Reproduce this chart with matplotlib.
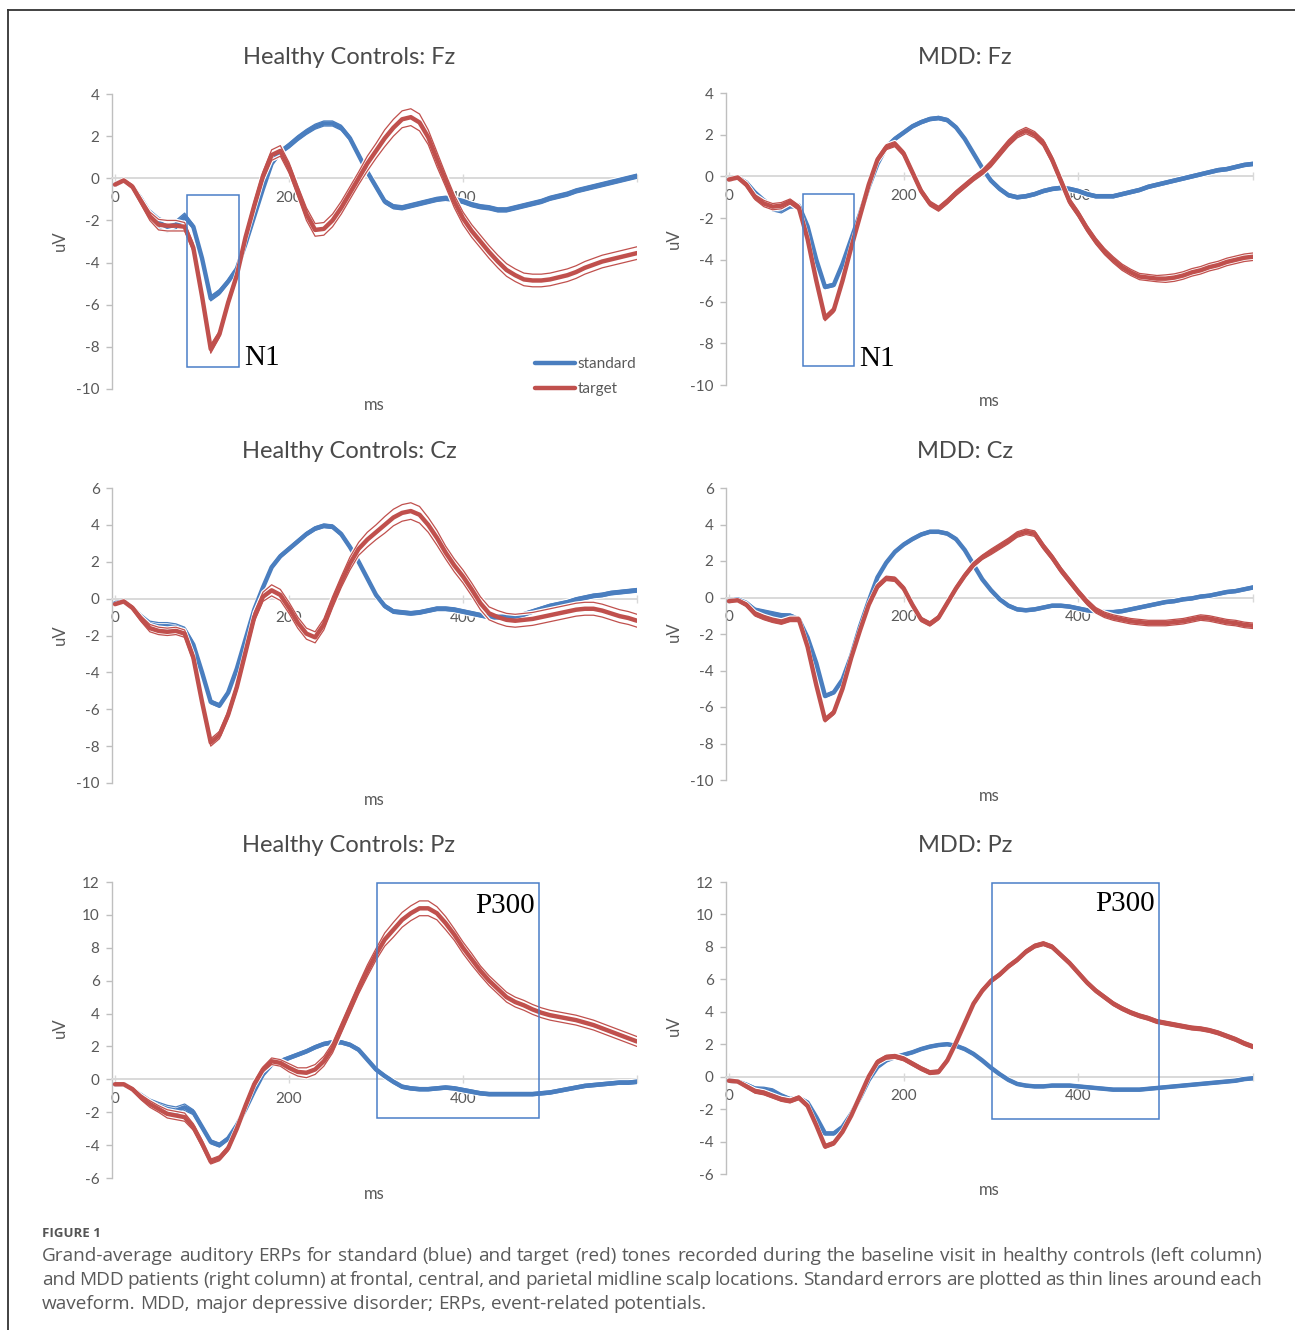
import matplotlib
matplotlib.use("Agg")
import matplotlib.pyplot as plt
import matplotlib.patheffects as pe
from matplotlib.lines import Line2D
from matplotlib.patches import Rectangle
import numpy as np

# ---------------- data ----------------
time_ms = [0, 10, 20, 30, 40, 50, 60, 70, 80, 90,
           100, 110, 120, 130, 140, 150, 160, 170, 180, 190,
           200, 210, 220, 230, 240, 250, 260, 270, 280, 290,
           300, 310, 320, 330, 340, 350, 360, 370, 380, 390,
           400, 410, 420, 430, 440, 450, 460, 470, 480, 490,
           500, 510, 520, 530, 540, 550, 560, 570, 580, 590,
           600]

hc_fz_std = [-0.3, -0.1, -0.4, -1.0, -1.7, -2.1, -2.3, -2.2, -1.8, -2.3,
             -3.8, -5.7, -5.4, -4.9, -4.3, -3.1, -1.8, -0.5, 0.7, 1.25,
             1.55, 1.9, 2.2, 2.45, 2.6, 2.6, 2.4, 1.9, 1.1, 0.3,
             -0.4, -1.1, -1.35, -1.4, -1.3, -1.2, -1.1, -1.0, -0.95, -1.0,
             -1.1, -1.25, -1.35, -1.4, -1.5, -1.5, -1.4, -1.3, -1.2, -1.1,
             -0.95, -0.85, -0.75, -0.6, -0.5, -0.4, -0.3, -0.2, -0.1, 0.0,
             0.1]
hc_fz_tgt = [-0.3, -0.1, -0.4, -1.1, -1.8, -2.2, -2.25, -2.25, -2.3, -3.3,
             -5.6, -8.1, -7.4, -5.9, -4.6, -2.8, -1.3, 0.1, 1.1, 1.3,
             0.5, -0.6, -1.7, -2.45, -2.4, -2.0, -1.4, -0.7, 0.0, 0.7,
             1.3, 1.9, 2.4, 2.8, 2.9, 2.65, 1.95, 0.9, -0.1, -1.1,
             -1.9, -2.5, -3.0, -3.5, -3.95, -4.35, -4.6, -4.8, -4.85, -4.85,
             -4.8, -4.7, -4.6, -4.45, -4.25, -4.1, -3.95, -3.85, -3.75, -3.65,
             -3.55]
mdd_fz_std = [-0.15, -0.05, -0.3, -0.8, -1.2, -1.5, -1.6, -1.4, -1.4, -2.4,
              -4.0, -5.3, -5.2, -4.2, -3.0, -1.8, -0.5, 0.6, 1.4, 1.8,
              2.1, 2.4, 2.6, 2.75, 2.8, 2.7, 2.35, 1.8, 1.1, 0.4,
              -0.2, -0.6, -0.9, -1.0, -0.95, -0.85, -0.7, -0.6, -0.55, -0.6,
              -0.7, -0.85, -0.95, -0.95, -0.95, -0.85, -0.75, -0.65, -0.5, -0.4,
              -0.3, -0.2, -0.1, 0.0, 0.1, 0.2, 0.3, 0.35, 0.45, 0.55,
              0.6]
mdd_fz_tgt = [-0.15, -0.05, -0.4, -1.0, -1.3, -1.45, -1.4, -1.2, -1.5, -3.0,
              -5.0, -6.8, -6.4, -5.0, -3.4, -1.9, -0.4, 0.8, 1.4, 1.55,
              1.1, 0.2, -0.7, -1.3, -1.55, -1.2, -0.8, -0.45, -0.1, 0.2,
              0.6, 1.1, 1.6, 2.0, 2.2, 2.0, 1.6, 0.8, -0.2, -1.2,
              -1.8, -2.5, -3.1, -3.6, -4.0, -4.35, -4.6, -4.8, -4.85, -4.9,
              -4.9, -4.85, -4.75, -4.6, -4.5, -4.35, -4.25, -4.1, -4.0, -3.9,
              -3.85]
hc_cz_std = [-0.25, -0.15, -0.5, -1.0, -1.4, -1.5, -1.5, -1.55, -1.7, -2.5,
             -4.0, -5.6, -5.8, -5.1, -3.8, -2.2, -0.6, 0.6, 1.7, 2.3,
             2.7, 3.1, 3.5, 3.8, 3.95, 3.9, 3.5, 2.8, 2.0, 1.1,
             0.2, -0.4, -0.7, -0.75, -0.8, -0.75, -0.65, -0.55, -0.55, -0.6,
             -0.7, -0.8, -0.9, -1.0, -1.0, -1.0, -0.95, -0.85, -0.7, -0.55,
             -0.4, -0.3, -0.2, -0.05, 0.05, 0.15, 0.2, 0.3, 0.35, 0.4,
             0.45]
hc_cz_tgt = [-0.3, -0.15, -0.5, -1.1, -1.6, -1.75, -1.8, -1.75, -1.9, -3.2,
             -5.6, -7.8, -7.4, -6.3, -4.8, -2.9, -1.0, 0.1, 0.45, 0.2,
             -0.5, -1.3, -1.9, -2.1, -1.4, -0.2, 0.9, 1.9, 2.7, 3.2,
             3.6, 4.0, 4.4, 4.65, 4.75, 4.55, 4.0, 3.3, 2.5, 1.8,
             1.2, 0.5, -0.25, -0.8, -1.0, -1.15, -1.2, -1.15, -1.1, -1.0,
             -0.9, -0.8, -0.7, -0.6, -0.55, -0.55, -0.65, -0.8, -0.95, -1.05,
             -1.2]
mdd_cz_std = [-0.2, -0.1, -0.3, -0.7, -0.8, -0.9, -1.0, -1.0, -1.2, -2.2,
              -3.6, -5.4, -5.2, -4.5, -3.2, -1.6, -0.2, 1.1, 1.9, 2.5,
              2.9, 3.2, 3.45, 3.6, 3.6, 3.5, 3.2, 2.6, 1.8, 1.0,
              0.4, -0.1, -0.45, -0.65, -0.7, -0.65, -0.55, -0.45, -0.45, -0.5,
              -0.6, -0.7, -0.75, -0.8, -0.8, -0.75, -0.65, -0.55, -0.45, -0.35,
              -0.25, -0.2, -0.1, -0.05, 0.05, 0.1, 0.2, 0.3, 0.35, 0.45,
              0.55]
mdd_cz_tgt = [-0.2, -0.15, -0.4, -0.9, -1.1, -1.25, -1.35, -1.2, -1.2, -2.7,
              -4.8, -6.7, -6.3, -5.0, -3.3, -1.8, -0.4, 0.6, 1.05, 1.0,
              0.5, -0.4, -1.2, -1.45, -1.1, -0.3, 0.5, 1.2, 1.8, 2.2,
              2.5, 2.8, 3.1, 3.45, 3.6, 3.5, 2.8, 2.2, 1.5, 0.9,
              0.3, -0.25, -0.7, -0.95, -1.1, -1.2, -1.3, -1.35, -1.4, -1.4,
              -1.4, -1.35, -1.3, -1.2, -1.1, -1.15, -1.25, -1.35, -1.4, -1.5,
              -1.55]
hc_pz_std = [-0.3, -0.3, -0.6, -1.0, -1.4, -1.6, -1.8, -1.9, -1.7, -2.0,
             -2.9, -3.8, -4.0, -3.6, -2.8, -1.8, -0.7, 0.3, 0.9, 1.1,
             1.3, 1.5, 1.7, 1.95, 2.15, 2.25, 2.25, 2.1, 1.8, 1.2,
             0.6, 0.2, -0.15, -0.45, -0.55, -0.6, -0.6, -0.55, -0.5, -0.55,
             -0.65, -0.75, -0.85, -0.9, -0.9, -0.9, -0.9, -0.9, -0.9, -0.85,
             -0.8, -0.7, -0.6, -0.5, -0.4, -0.35, -0.3, -0.25, -0.2, -0.2,
             -0.15]
hc_pz_tgt = [-0.3, -0.3, -0.6, -1.1, -1.5, -1.8, -2.1, -2.2, -2.3, -2.9,
             -3.9, -5.0, -4.8, -4.2, -3.0, -1.6, -0.3, 0.6, 1.1, 1.0,
             0.7, 0.45, 0.4, 0.6, 1.1, 1.9, 3.1, 4.3, 5.5, 6.6,
             7.6, 8.5, 9.1, 9.7, 10.1, 10.4, 10.4, 10.1, 9.5, 8.8,
             8.0, 7.3, 6.6, 6.0, 5.5, 5.0, 4.7, 4.5, 4.25, 4.05,
             3.9, 3.8, 3.7, 3.6, 3.45, 3.3, 3.1, 2.9, 2.7, 2.5,
             2.3]
mdd_pz_std = [-0.25, -0.3, -0.5, -0.75, -0.8, -0.9, -1.2, -1.4, -1.3, -1.6,
              -2.5, -3.5, -3.5, -3.1, -2.3, -1.3, -0.2, 0.6, 1.0, 1.2,
              1.35, 1.5, 1.7, 1.85, 1.95, 2.0, 1.9, 1.7, 1.4, 1.0,
              0.55, 0.15, -0.2, -0.45, -0.55, -0.6, -0.6, -0.55, -0.55, -0.55,
              -0.6, -0.65, -0.7, -0.75, -0.8, -0.8, -0.8, -0.8, -0.75, -0.7,
              -0.65, -0.6, -0.55, -0.5, -0.45, -0.4, -0.35, -0.3, -0.25, -0.15,
              -0.1]
mdd_pz_tgt = [-0.25, -0.3, -0.6, -0.9, -1.0, -1.2, -1.4, -1.5, -1.3, -1.8,
              -3.0, -4.3, -4.1, -3.4, -2.4, -1.2, 0.0, 0.9, 1.2, 1.25,
              1.1, 0.8, 0.5, 0.25, 0.3, 1.0, 2.1, 3.3, 4.5, 5.3,
              5.9, 6.3, 6.8, 7.2, 7.7, 8.05, 8.2, 8.0, 7.5, 7.0,
              6.4, 5.8, 5.3, 4.9, 4.5, 4.2, 3.95, 3.75, 3.6, 3.4,
              3.3, 3.2, 3.1, 3.0, 2.95, 2.85, 2.7, 2.5, 2.3, 2.05,
              1.85]

# standard errors (half-width of thin lines)
hc_fz_std_se = [0.03, 0.05, 0.1, 0.15, 0.2, 0.25, 0.25, 0.2, 0.15, 0.1,
                0.1, 0.12, 0.12, 0.1, 0.1, 0.1, 0.1, 0.1, 0.1, 0.1,
                0.12, 0.12, 0.12, 0.12, 0.12, 0.12, 0.12, 0.1, 0.1, 0.1,
                0.1, 0.1, 0.1, 0.1, 0.1, 0.1, 0.1, 0.1, 0.1, 0.1,
                0.1, 0.1, 0.1, 0.1, 0.1, 0.1, 0.1, 0.1, 0.1, 0.1,
                0.1, 0.1, 0.1, 0.1, 0.1, 0.1, 0.1, 0.1, 0.1, 0.1,
                0.1]
hc_fz_tgt_se = [0.03, 0.05, 0.1, 0.15, 0.2, 0.25, 0.25, 0.25, 0.2, 0.2,
                0.2, 0.2, 0.15, 0.15, 0.15, 0.15, 0.2, 0.2, 0.25, 0.25,
                0.25, 0.25, 0.3, 0.3, 0.3, 0.3, 0.3, 0.3, 0.3, 0.35,
                0.35, 0.4, 0.4, 0.4, 0.4, 0.4, 0.35, 0.35, 0.3, 0.3,
                0.3, 0.3, 0.3, 0.3, 0.3, 0.3, 0.3, 0.3, 0.3, 0.3,
                0.3, 0.3, 0.3, 0.3, 0.3, 0.3, 0.3, 0.3, 0.3, 0.3,
                0.3]
mdd_fz_std_se = [0.02, 0.05, 0.08, 0.12, 0.15, 0.15, 0.15, 0.12, 0.1, 0.1,
                 0.08, 0.08, 0.08, 0.08, 0.08, 0.08, 0.08, 0.08, 0.08, 0.08,
                 0.08, 0.08, 0.08, 0.08, 0.08, 0.08, 0.08, 0.08, 0.08, 0.08,
                 0.08, 0.08, 0.08, 0.08, 0.08, 0.08, 0.08, 0.08, 0.08, 0.08,
                 0.08, 0.08, 0.08, 0.08, 0.08, 0.08, 0.08, 0.08, 0.08, 0.08,
                 0.08, 0.08, 0.08, 0.08, 0.08, 0.08, 0.08, 0.08, 0.08, 0.08,
                 0.08]
mdd_fz_tgt_se = [0.03, 0.05, 0.1, 0.12, 0.15, 0.15, 0.15, 0.12, 0.12, 0.12,
                 0.12, 0.12, 0.12, 0.12, 0.12, 0.12, 0.12, 0.12, 0.12, 0.12,
                 0.12, 0.12, 0.12, 0.12, 0.12, 0.12, 0.12, 0.12, 0.12, 0.12,
                 0.15, 0.15, 0.15, 0.15, 0.15, 0.15, 0.15, 0.15, 0.15, 0.15,
                 0.15, 0.15, 0.15, 0.15, 0.15, 0.15, 0.15, 0.15, 0.15, 0.15,
                 0.18, 0.18, 0.18, 0.18, 0.18, 0.18, 0.18, 0.18, 0.18, 0.18,
                 0.18]
hc_cz_std_se = [0.03, 0.05, 0.1, 0.15, 0.18, 0.2, 0.2, 0.18, 0.15, 0.12,
                0.1, 0.1, 0.1, 0.1, 0.1, 0.1, 0.1, 0.1, 0.1, 0.1,
                0.1, 0.1, 0.1, 0.1, 0.1, 0.1, 0.1, 0.1, 0.1, 0.1,
                0.1, 0.1, 0.1, 0.1, 0.1, 0.1, 0.1, 0.1, 0.1, 0.1,
                0.1, 0.1, 0.1, 0.1, 0.1, 0.1, 0.1, 0.1, 0.1, 0.1,
                0.1, 0.1, 0.1, 0.1, 0.1, 0.1, 0.1, 0.1, 0.1, 0.1,
                0.1]
hc_cz_tgt_se = [0.03, 0.05, 0.1, 0.15, 0.2, 0.2, 0.2, 0.2, 0.2, 0.2,
                0.2, 0.2, 0.2, 0.2, 0.2, 0.2, 0.25, 0.25, 0.3, 0.3,
                0.3, 0.3, 0.3, 0.3, 0.3, 0.3, 0.3, 0.35, 0.35, 0.4,
                0.4, 0.45, 0.45, 0.45, 0.45, 0.45, 0.4, 0.4, 0.35, 0.35,
                0.35, 0.35, 0.35, 0.35, 0.35, 0.35, 0.35, 0.35, 0.35, 0.35,
                0.35, 0.35, 0.35, 0.35, 0.35, 0.35, 0.35, 0.35, 0.35, 0.35,
                0.35]
mdd_cz_std_se = [0.02, 0.05, 0.08, 0.12, 0.12, 0.12, 0.12, 0.1, 0.1, 0.1,
                 0.08, 0.08, 0.08, 0.08, 0.08, 0.08, 0.08, 0.08, 0.08, 0.08,
                 0.08, 0.08, 0.08, 0.08, 0.08, 0.08, 0.08, 0.08, 0.08, 0.08,
                 0.08, 0.08, 0.08, 0.08, 0.08, 0.08, 0.08, 0.08, 0.08, 0.08,
                 0.08, 0.08, 0.08, 0.08, 0.08, 0.08, 0.08, 0.08, 0.08, 0.08,
                 0.08, 0.08, 0.08, 0.08, 0.08, 0.08, 0.08, 0.08, 0.08, 0.08,
                 0.08]
mdd_cz_tgt_se = [0.03, 0.05, 0.1, 0.12, 0.12, 0.12, 0.12, 0.12, 0.12, 0.12,
                 0.12, 0.12, 0.12, 0.12, 0.12, 0.12, 0.12, 0.12, 0.12, 0.12,
                 0.12, 0.12, 0.12, 0.12, 0.12, 0.12, 0.12, 0.12, 0.12, 0.12,
                 0.15, 0.15, 0.15, 0.15, 0.15, 0.15, 0.15, 0.15, 0.15, 0.15,
                 0.15, 0.15, 0.15, 0.15, 0.15, 0.15, 0.15, 0.15, 0.15, 0.15,
                 0.15, 0.15, 0.15, 0.15, 0.15, 0.15, 0.15, 0.15, 0.15, 0.15,
                 0.15]
hc_pz_std_se = [0.03, 0.05, 0.1, 0.15, 0.2, 0.2, 0.22, 0.22, 0.2, 0.15,
                0.12, 0.12, 0.12, 0.1, 0.1, 0.1, 0.1, 0.1, 0.1, 0.1,
                0.1, 0.1, 0.1, 0.1, 0.1, 0.1, 0.1, 0.1, 0.1, 0.1,
                0.1, 0.1, 0.1, 0.1, 0.1, 0.1, 0.1, 0.1, 0.1, 0.1,
                0.1, 0.1, 0.1, 0.1, 0.1, 0.1, 0.1, 0.1, 0.1, 0.1,
                0.1, 0.1, 0.1, 0.1, 0.1, 0.1, 0.1, 0.1, 0.1, 0.1,
                0.1]
hc_pz_tgt_se = [0.03, 0.05, 0.1, 0.15, 0.2, 0.2, 0.25, 0.25, 0.25, 0.2,
                0.2, 0.15, 0.15, 0.15, 0.15, 0.15, 0.15, 0.15, 0.2, 0.2,
                0.25, 0.25, 0.3, 0.3, 0.3, 0.3, 0.3, 0.3, 0.3, 0.35,
                0.35, 0.4, 0.45, 0.45, 0.45, 0.45, 0.45, 0.4, 0.4, 0.35,
                0.35, 0.35, 0.3, 0.3, 0.3, 0.3, 0.3, 0.3, 0.3, 0.3,
                0.3, 0.3, 0.3, 0.3, 0.3, 0.3, 0.3, 0.3, 0.3, 0.3,
                0.3]
mdd_pz_std_se = [0.02, 0.05, 0.1, 0.12, 0.15, 0.15, 0.15, 0.12, 0.1, 0.1,
                 0.08, 0.08, 0.08, 0.08, 0.08, 0.08, 0.08, 0.08, 0.08, 0.08,
                 0.08, 0.08, 0.08, 0.08, 0.08, 0.08, 0.08, 0.08, 0.08, 0.08,
                 0.08, 0.08, 0.08, 0.08, 0.08, 0.08, 0.08, 0.08, 0.08, 0.08,
                 0.08, 0.08, 0.08, 0.08, 0.08, 0.08, 0.08, 0.08, 0.08, 0.08,
                 0.08, 0.08, 0.08, 0.08, 0.08, 0.08, 0.08, 0.08, 0.08, 0.08,
                 0.08]
mdd_pz_tgt_se = [0.03, 0.05, 0.1, 0.12, 0.12, 0.12, 0.12, 0.12, 0.12, 0.12,
                 0.12, 0.12, 0.12, 0.12, 0.12, 0.12, 0.12, 0.12, 0.12, 0.12,
                 0.12, 0.12, 0.12, 0.12, 0.12, 0.12, 0.12, 0.12, 0.12, 0.12,
                 0.12, 0.12, 0.12, 0.12, 0.12, 0.12, 0.12, 0.12, 0.12, 0.12,
                 0.12, 0.12, 0.12, 0.12, 0.12, 0.12, 0.12, 0.12, 0.12, 0.12,
                 0.12, 0.12, 0.12, 0.12, 0.12, 0.12, 0.12, 0.12, 0.12, 0.12,
                 0.12]

panel_titles = ["Healthy Controls: Fz", "MDD: Fz",
                "Healthy Controls: Cz", "MDD: Cz",
                "Healthy Controls: Pz", "MDD: Pz"]
x_tick_values = [0, 200, 400, 600]
x_tick_labels = ["0", "200", "400", ""]
legend_labels = ["standard", "target"]

caption_head = "FIGURE 1"
caption_lines = [
    "Grand-average auditory ERPs for standard (blue) and target (red) tones recorded during the baseline visit in healthy controls (left column)",
    "and MDD patients (right column) at frontal, central, and parietal midline scalp locations. Standard errors are plotted as thin lines around each",
    "waveform. MDD, major depressive disorder; ERPs, event-related potentials.",
]

# ---------------- style ----------------
plt.rcParams['font.family'] = ['Lato', 'DejaVu Sans']
plt.rcParams['axes.unicode_minus'] = False
BLUE = '#4a7ebf'
RED = '#c0504d'
BOX = '#4a7ec8'
TXT = '#595959'
W, H = 1295, 1330

fig = plt.figure(figsize=(W / 100, H / 100), dpi=100)
fig.patch.set_facecolor('white')


def add_ax(l, r, t, b):
    return fig.add_axes([l / W, 1 - b / H, (r - l) / W, (b - t) / H])


def draw_wave(ax, mean, se, color, z):
    m = np.asarray(mean, float)
    s = np.asarray(se, float)
    for sign in (1, -1):
        ax.plot(time_ms, m + sign * s, color=color, lw=0.9, zorder=z,
                solid_capstyle='round', solid_joinstyle='round',
                path_effects=[pe.Stroke(linewidth=2.6, foreground='white'), pe.Normal()])
    ax.plot(time_ms, m, color=color, lw=3.2, zorder=z + 0.1,
            solid_capstyle='round', solid_joinstyle='round')


panels = [
    dict(std=hc_fz_std, tgt=hc_fz_tgt, sse=hc_fz_std_se, tse=hc_fz_tgt_se,
         geom=(112, 637, 94, 389), ylim=(-10, 4), xmin=-3.5,
         title=(349, 57), ms=(374, 405), uv=(60, 241)),
    dict(std=mdd_fz_std, tgt=mdd_fz_tgt, sse=mdd_fz_std_se, tse=mdd_fz_tgt_se,
         geom=(726, 1253, 93, 385), ylim=(-10, 4), xmin=-3.4,
         title=(965, 57), ms=(989, 401), uv=(674, 239)),
    dict(std=hc_cz_std, tgt=hc_cz_tgt, sse=hc_cz_std_se, tse=hc_cz_tgt_se,
         geom=(112, 637, 488, 783), ylim=(-10, 6), xmin=-3.5,
         title=(349, 451), ms=(374, 800), uv=(60, 635)),
    dict(std=mdd_cz_std, tgt=mdd_cz_tgt, sse=mdd_cz_std_se, tse=mdd_cz_tgt_se,
         geom=(726, 1253, 488, 780), ylim=(-10, 6), xmin=-3.4,
         title=(965, 451), ms=(989, 796), uv=(674, 632)),
    dict(std=hc_pz_std, tgt=hc_pz_tgt, sse=hc_pz_std_se, tse=hc_pz_tgt_se,
         geom=(112, 637, 882, 1178), ylim=(-6, 12), xmin=-3.5,
         title=(349, 846), ms=(374, 1194), uv=(60, 1028)),
    dict(std=mdd_pz_std, tgt=mdd_pz_tgt, sse=mdd_pz_std_se, tse=mdd_pz_tgt_se,
         geom=(726, 1253, 882, 1174), ylim=(-6, 12), xmin=-3.4,
         title=(965, 846), ms=(989, 1190), uv=(674, 1026)),
]

axes = []
for i, p in enumerate(panels):
    ax = add_ax(*p['geom'])
    axes.append(ax)
    ax.set_xlim(p['xmin'], 600)
    ax.set_ylim(*p['ylim'])
    ax.patch.set_alpha(0)
    for s in ('top', 'right'):
        ax.spines[s].set_visible(False)
    ax.spines['left'].set_color('#bfbfbf')
    ax.spines['left'].set_linewidth(1.0)
    ax.spines['bottom'].set_position(('data', 0))
    ax.spines['bottom'].set_color('#d9d9d9')
    ax.spines['bottom'].set_linewidth(1.4)
    ax.set_yticks(list(range(p['ylim'][0], p['ylim'][1] + 1, 2)))
    ax.tick_params(axis='y', direction='out', length=4, width=1.0, color='#bfbfbf',
                   labelcolor=TXT, labelsize=11, pad=5)
    ax.set_xticks(x_tick_values)
    ax.set_xticklabels(x_tick_labels)
    ax.tick_params(axis='x', direction='inout', length=6, width=1.0, color='#d9d9d9',
                   labelcolor=TXT, labelsize=11, pad=6)
    draw_wave(ax, p['std'], p['sse'], BLUE, 3)
    draw_wave(ax, p['tgt'], p['tse'], RED, 4)
    tx, ty = p['title']
    fig.text(tx / W, 1 - ty / H, panel_titles[i], ha='center', va='center',
             fontsize=17, color='#4a4a4a')
    mx, my = p['ms']
    fig.text(mx / W, 1 - my / H, 'ms', ha='center', va='center', fontsize=12, color=TXT)
    ux, uy = p['uv']
    fig.text(ux / W, 1 - uy / H, 'uV', ha='center', va='center', fontsize=12,
             color=TXT, rotation=90)

# annotation boxes
serif = ['Liberation Serif', 'DejaVu Serif']
axes[0].add_patch(Rectangle((82.2, -8.97), 143 - 82.2, 8.97 - 0.78, fill=False,
                            ec=BOX, lw=1.1, zorder=6))
axes[0].text(148, -8.87, 'N1', ha='left', va='baseline', fontsize=21,
             family=serif, color='black', zorder=6)
axes[1].add_patch(Rectangle((84.4, -9.1), 143.6 - 84.4, 9.1 - 0.82, fill=False,
                            ec=BOX, lw=1.1, zorder=6))
axes[1].text(149, -9.1, 'N1', ha='left', va='baseline', fontsize=21,
             family=serif, color='black', zorder=6)
axes[4].add_patch(Rectangle((301, -2.33), 487.5 - 301, 11.96 + 2.33, fill=False,
                            ec=BOX, lw=1.1, zorder=6))
axes[4].text(483, 10.1, 'P300', ha='right', va='baseline', fontsize=21,
             family=serif, color='black', zorder=6)
axes[5].add_patch(Rectangle((301, -2.58), 492 - 301, 11.94 + 2.58, fill=False,
                            ec=BOX, lw=1.1, zorder=6))
axes[5].text(487.5, 10.2, 'P300', ha='right', va='baseline', fontsize=21,
             family=serif, color='black', zorder=6)

# legend (first panel)
handles = [Line2D([], [], color=BLUE, lw=3.2, solid_capstyle='round'),
           Line2D([], [], color=RED, lw=3.2, solid_capstyle='round')]
fig.legend(handles, legend_labels, loc='upper left',
           bbox_to_anchor=(535 / W, 1 - 357 / H), frameon=False, borderpad=0,
           borderaxespad=0, handlelength=2.6, handletextpad=0.2, labelspacing=0.75,
           prop=dict(family='Lato', size=11), labelcolor=TXT)

# border
fig.add_artist(Line2D([8 / W, 8 / W], [0, 1 - 10 / H], transform=fig.transFigure,
                      color='#333333', lw=1.3))
fig.add_artist(Line2D([8 / W, 1], [1 - 10 / H, 1 - 10 / H], transform=fig.transFigure,
                      color='#333333', lw=1.3))

# caption
cap_font = ['Open Sans', 'DejaVu Sans']
fig.text(42 / W, 1 - 1237 / H, caption_head, ha='left', va='baseline',
         fontsize=9.5, fontweight='bold', color='#555555', family=cap_font)
renderer = fig.canvas.get_renderer()
x0, x1 = 42, 1262

# choose caption size so that the first line fills the width with natural spacing
probe = fig.text(0, 0, caption_lines[0], fontsize=12, family=cap_font)
w12 = probe.get_window_extent(renderer).width
probe.remove()
cap_size = min(14.5, 12 * (x1 - x0 - 10) / w12)

baselines = [1261, 1285, 1309]
for li, (line, yb) in enumerate(zip(caption_lines, baselines)):
    words = line.split(' ')
    texts = [fig.text(0, 1 - yb / H, w, ha='left', va='baseline', fontsize=cap_size,
                      color='#5a5a5a', family=cap_font) for w in words]
    widths = [t.get_window_extent(renderer).width for t in texts]
    if li < len(caption_lines) - 1:
        gap = (x1 - x0 - sum(widths)) / (len(words) - 1)
    else:
        gap = cap_size * 0.26 * 100 / 72
    x = x0
    for t, w in zip(texts, widths):
        t.set_x(x / W)
        x += w + gap

fig.savefig('out.png', dpi=100, facecolor='white')
